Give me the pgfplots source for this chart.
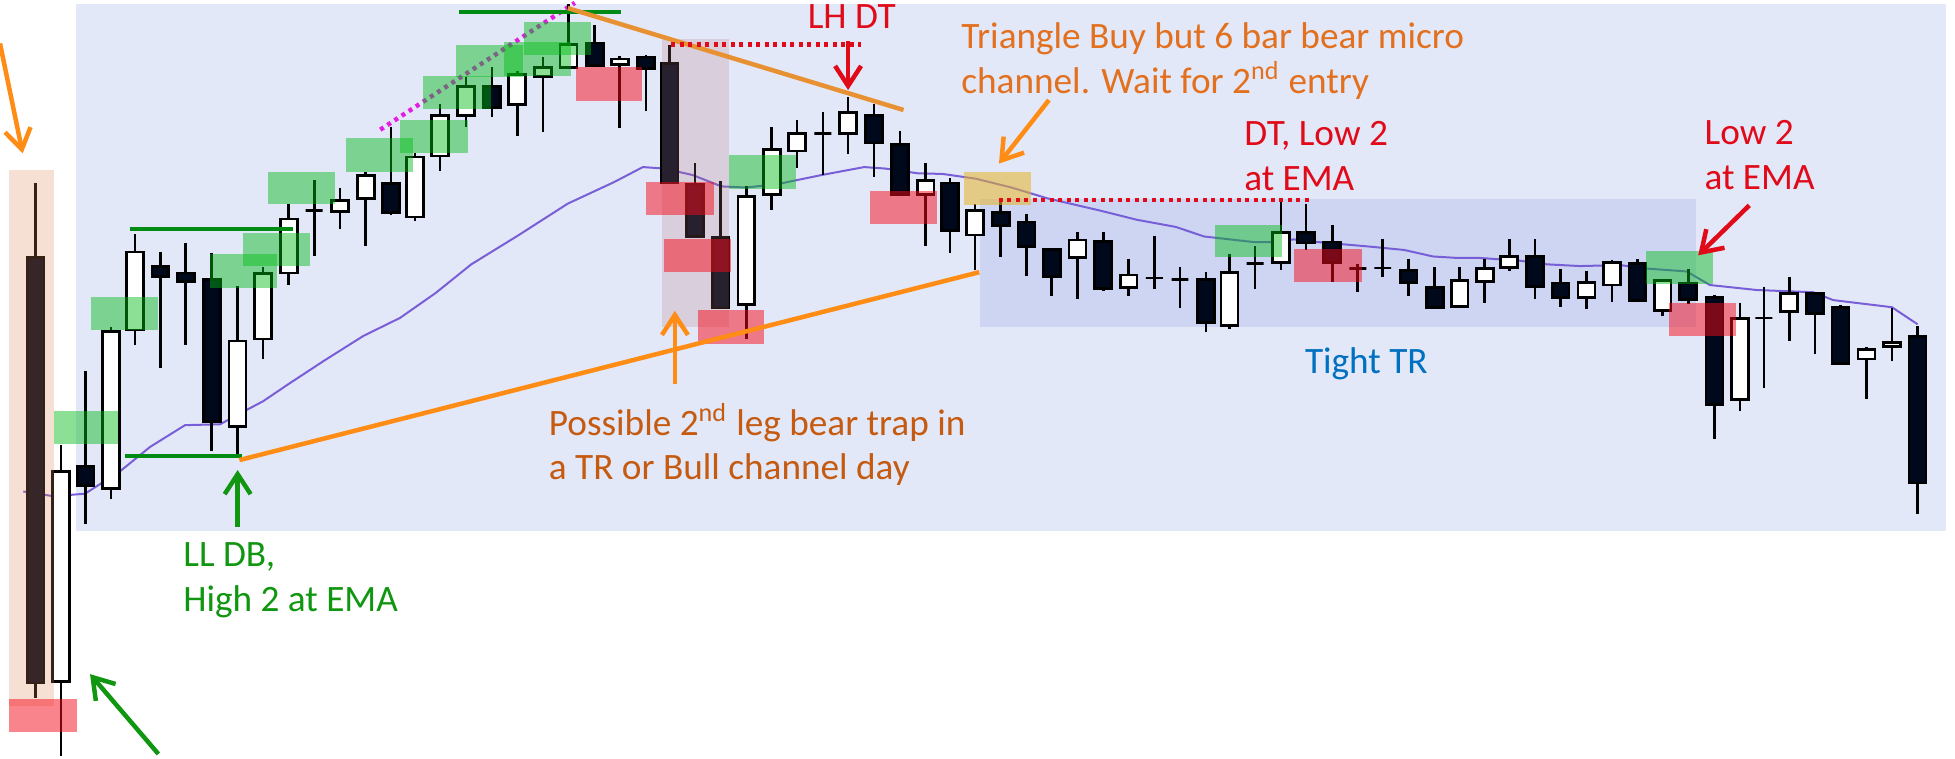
\documentclass[border=0pt]{standalone}
\usepackage{pgfplots}
\pgfplotsset{compat=1.18}
\usetikzlibrary{arrows.meta}
\usepackage{fontspec}
\setmainfont{Carlito}

\definecolor{panel}{RGB}{227,232,248}
\definecolor{trbox}{RGB}{120,140,220}
\definecolor{bear}{RGB}{0,8,28}
\definecolor{emac}{RGB}{120,95,215}
\definecolor{orng}{RGB}{255,140,20}
\definecolor{orng2}{RGB}{232,145,50}
\definecolor{gline}{RGB}{0,140,20}
\definecolor{redc}{RGB}{225,10,25}
\definecolor{txtorange}{RGB}{197,90,17}
\definecolor{txtorange2}{RGB}{226,112,30}
\definecolor{txtgreen}{RGB}{16,150,16}
\definecolor{txtblue}{RGB}{0,112,192}
\definecolor{magent}{RGB}{225,30,225}
\definecolor{gbox}{RGB}{0,187,20}
\definecolor{rbox}{RGB}{245,10,25}
\definecolor{goldbox}{RGB}{230,180,40}
\definecolor{rosy}{RGB}{182,118,118}
\definecolor{peach}{RGB}{220,130,80}

% candle: x, body top, body bottom, high, low (pixel rows, downwards)
\newcommand\cdl[6]{%
  \pgfmathsetmacro\cxl{#1-6.8}\pgfmathsetmacro\cxr{#1+6.8}%
  \addplot[draw=black, line width=0.27mm] coordinates {(#1,#4) (#1,#5)};
  \addplot[draw=black, line width=0.27mm, fill=#6] coordinates {(\cxl,#2) (\cxr,#2) (\cxr,#3) (\cxl,#3)} -- cycle;
}
\newcommand\be[5]{\cdl{#1}{#2}{#3}{#4}{#5}{bear}}
\newcommand\bu[5]{\cdl{#1}{#2}{#3}{#4}{#5}{white}}
\newcommand\rbx[6]{\addplot[draw=none, fill=#1, fill opacity=#2] coordinates {(#3,#4) (#5,#4) (#5,#6) (#3,#6)} -- cycle;}

\tikzset{arr/.style={line width=0.45mm, -{Straight Barb[length=2mm,width=2.6mm]}}}

\begin{document}
\begin{tikzpicture}
\begin{axis}[
  scale only axis, width=19.55cm, height=7.58cm,
  xmin=0, xmax=1568, ymin=0, ymax=608, y dir=reverse,
  hide axis, clip=false, no markers,
]
% panels
\rbx{panel}{1}{61}{3.5}{1561}{425.5}
\rbx{trbox}{0.2}{786.3}{160}{1360.2}{262.1}

% EMA
\addplot[emac, line width=0.2mm] coordinates {
(18.7,394.2) (42.8,398) (68.2,396) (96.3,378) (120.3,358.5) (148.4,341) (176.5,340.3)
(196.5,329.5) (211.2,321.7) (231.3,308.1) (260.7,288.8) (291.5,269.4) (320.8,255)
(349.4,235) (378,212) (415.3,189) (455.4,163.3) (492.6,146) (515.6,134) (532.7,135.2)
(555.6,140.4) (578.6,149.5) (598.6,150.4) (624.4,147.5) (658.8,140.4) (693.1,134)
(710.3,135.2) (736.1,139) (756,139.5) (782.6,143.3) (811.2,150.4) (839.8,159) (882.8,169)
(911.5,176.2) (943,182) (965.9,189.7) (1006,194.2) (1023.2,194.2) (1037.5,192)
(1057.6,194.2) (1097.7,197.7) (1126.3,200.5) (1149.3,205.7) (1169.3,206.9) (1187,206.9)
(1219,209.1) (1240.5,212) (1267.2,213.4) (1299.3,212.6) (1320.7,215.4) (1352.7,217.7)
(1371.4,228.6) (1408.9,232.6) (1454.3,234.4) (1470.3,240.7) (1517.4,246.4) (1538,260.1)};

% magenta dotted line
\addplot[magent, line width=0.45mm, dash pattern=on 0.4mm off 0.45mm] coordinates {(305,104) (461,2.3)};

% candles
\be{28.6}{206.6}{547.7}{147}{560}
\bu{49}{378}{546.5}{356.6}{606.6}
\be{68.7}{374}{389.5}{297.7}{420.5}
\bu{89}{266}{392}{262}{400}
\bu{108.3}{202}{264.7}{188}{276.4}
\be{128.6}{213.6}{221.7}{202}{295}
\be{149}{219}{225.6}{194.6}{276.7}
\be{169.8}{224}{338}{202.7}{361.6}
\bu{190.4}{273.6}{341.9}{229.5}{365.5}
\bu{211}{219.4}{272}{214}{287.6}
\bu{231.6}{175.6}{219}{164}{228.7}
\bu{252}{168.6}{168.6}{144}{205.4}
\bu{272.7}{161}{169.8}{150.4}{183.3}
\bu{293.3}{141}{159}{138}{197.7}
\be{313.6}{147.3}{170.5}{101.6}{172.5}
\bu{332.8}{126}{174}{122.6}{177}
\bu{353}{92.5}{125}{83.7}{137}
\bu{373.8}{69.3}{92.5}{61.6}{102}
\be{394.7}{69.3}{86}{54}{94}
\bu{414.8}{60}{83.7}{57.3}{109.4}
\bu{435.4}{53.9}{61.3}{45.8}{106}
\bu{456}{35.8}{53.9}{3.4}{54.4}
\be{477}{34.4}{52.4}{20}{53}
\bu{497}{47.3}{51.6}{45.3}{103}
\be{518}{45.8}{55}{43.8}{88.8}
\be{537}{51}{146.7}{35.8}{147.5}
\be{557.4}{147.5}{189.7}{131}{190.5}
\be{578}{190.5}{247}{145.5}{247.8}
\bu{598.6}{157.6}{244}{149.5}{272}
\bu{619}{119.8}{156}{101.7}{168.5}
\bu{639.3}{106.9}{121}{96}{134.6}
\bu{660}{106.9}{106.9}{90.2}{140.4}
\bu{680.2}{90.5}{106.9}{78}{123.8}
\be{701}{92.5}{114.6}{83.7}{141.8}
\be{721.8}{116}{156}{105.4}{156}
\bu{742.4}{144.7}{156}{131}{197}
\be{762}{146.7}{184.8}{143}{203}
\bu{782}{169}{188.5}{164}{216.3}
\be{802.6}{170.5}{181}{160}{206}
\be{823.2}{178}{197.7}{171.3}{221}
\be{843.6}{200}{222}{200}{237.8}
\bu{864.2}{192.5}{206.3}{185.7}{240}
\be{884.8}{193.7}{231.5}{186}{233.5}
\bu{905.2}{220.6}{230.6}{207.7}{237.8}
\bu{925.8}{222.9}{222.9}{189}{231.5}
\bu{946.4}{224}{224}{214.3}{247}
\be{967.3}{224}{258.4}{218.3}{266.4}
\bu{986}{218.3}{261.3}{203.4}{263.6}
\bu{1006.6}{211.4}{211.4}{197.7}{231.5}
\bu{1027.5}{186.2}{210.6}{161.9}{216.3}
\be{1047.5}{186.2}{194.8}{163.3}{200.5}
\be{1068.5}{194.2}{210.6}{180.5}{226.3}
\bu{1089}{215.4}{215.4}{212}{234.4}
\bu{1109}{214.9}{214.9}{191.4}{222}
\be{1129.8}{217}{226.3}{207.7}{237.2}
\be{1150.7}{230.6}{246.4}{214.3}{246.4}
\bu{1170.7}{225}{245.8}{214.3}{245.8}
\bu{1190.8}{215.4}{225.8}{207.7}{243}
\bu{1210.5}{205.7}{214.3}{192}{217}
\be{1231}{205.7}{229.8}{192}{240}
\be{1251.7}{227}{238.4}{215.4}{246.4}
\bu{1272.5}{226.3}{238.4}{217.2}{247.8}
\bu{1292.9}{210.6}{228.6}{208.6}{242}
\be{1313.2}{211.4}{241.2}{207.7}{241.2}
\bu{1333.5}{225}{249.3}{225}{253.6}
\be{1354}{227}{240}{215.4}{244}
\be{1375}{238.4}{324.3}{236.4}{351.8}
\bu{1395.5}{255.6}{320.3}{243}{329.5}
\bu{1414.7}{255}{255}{229.8}{310.9}
\bu{1435}{235.5}{249.8}{222}{273.6}
\be{1455.6}{235.5}{251.5}{235.5}{284.2}
\be{1476.2}{246.4}{291.7}{245}{291.7}
\bu{1497}{280.2}{288}{278.5}{320.3}
\bu{1517.4}{274.5}{278}{247}{289.4}
\be{1538}{270}{387.3}{261.3}{412}

% highlight boxes
\rbx{peach}{0.25}{7.5}{136.4}{43.3}{566}
\rbx{rosy}{0.22}{531.3}{31.5}{584.3}{262}
\rbx{gbox}{0.45}{43}{329.5}{95}{356}
\rbx{gbox}{0.45}{73}{238}{127}{265}
\rbx{gbox}{0.45}{168.4}{204}{222}{231}
\rbx{gbox}{0.45}{194.6}{187}{249}{213}
\rbx{gbox}{0.45}{215}{137.6}{268.7}{164}
\rbx{gbox}{0.45}{277.5}{111}{331.5}{137.6}
\rbx{gbox}{0.45}{320.8}{96}{375.2}{122.6}
\rbx{gbox}{0.45}{339.4}{60.7}{393.8}{87.4}
\rbx{gbox}{0.45}{366}{35.8}{419.6}{61.6}
\rbx{gbox}{0.45}{404}{33.8}{457.7}{60.7}
\rbx{gbox}{0.45}{420.5}{17.8}{474}{44.4}
\rbx{gbox}{0.45}{584.3}{124.6}{638.8}{151.3}
\rbx{gbox}{0.45}{974.5}{180.5}{1028.4}{206.3}
\rbx{gbox}{0.45}{1320.1}{201.4}{1373.6}{227.8}
\rbx{rbox}{0.5}{7.5}{561}{62}{587}
\rbx{rbox}{0.5}{461.7}{53.9}{515}{80.8}
\rbx{rbox}{0.5}{518.4}{146}{572.3}{172.8}
\rbx{rbox}{0.5}{532.2}{191.4}{586.6}{218.3}
\rbx{rbox}{0.5}{560}{249}{613}{276}
\rbx{rbox}{0.5}{697.7}{153.3}{751.3}{180}
\rbx{rbox}{0.5}{1038.1}{200}{1092.5}{226.3}
\rbx{rbox}{0.5}{1338.8}{243}{1392.3}{269.3}
\rbx{goldbox}{0.55}{773.4}{138}{827.2}{164.7}

% lines
\addplot[gline, line width=0.4mm] coordinates {(104,184) (235,184)};
\addplot[gline, line width=0.4mm] coordinates {(100,366) (194,366)};
\addplot[gline, line width=0.4mm] coordinates {(368,10) (498,10)};
\addplot[orng, line width=0.45mm] coordinates {(192,369) (785.4,218.3)};
\addplot[orng2, line width=0.45mm] coordinates {(455.4,6.5) (724.7,88.2)};
\addplot[redc, line width=0.45mm, dash pattern=on 0.4mm off 0.45mm] coordinates {(538.5,35.8) (690.3,35.8)};
\addplot[redc, line width=0.45mm, dash pattern=on 0.4mm off 0.45mm] coordinates {(801.2,160.4) (1050.4,160.4)};

% arrows
\draw[arr, orng] (axis cs:0,34.8) -- (axis cs:18.2,123);
\draw[arr, txtgreen] (axis cs:127,604.7) -- (axis cs:72.2,540.7);
\draw[arr, txtgreen] (axis cs:190.6,422.4) -- (axis cs:190.6,377);
\draw[arr, orng] (axis cs:541.3,308) -- (axis cs:541.3,249.3);
\draw[arr, redc] (axis cs:680.2,33) -- (axis cs:680.2,72.2);
\draw[arr, orng] (axis cs:841.3,80.2) -- (axis cs:801.2,131.2);
\draw[arr, redc] (axis cs:1403,164.7) -- (axis cs:1362,204.8);

% texts
\tikzset{lbl/.style={anchor=base west, inner sep=0pt, font=\fontsize{10.6}{12.7}\selectfont}}
\node[lbl, txtgreen] at (axis cs:146.5,454.5) {LL DB,};
\node[lbl, txtgreen] at (axis cs:146.5,490.6) {High 2 at EMA};
\node[lbl, txtorange] at (axis cs:439.7,349) {Possible 2\textsuperscript{nd} leg bear trap in};
\node[lbl, txtorange] at (axis cs:439.7,384.8) {a TR or Bull channel day};
\node[lbl, redc] at (axis cs:647.3,22.9) {LH DT};
\node[lbl, txtorange2] at (axis cs:770.5,38.7) {Triangle Buy but 6 bar bear micro};
\node[lbl, txtorange2] at (axis cs:770.5,75) {channel. Wait for 2\textsuperscript{nd} entry};
\node[lbl, redc] at (axis cs:997.4,117) {DT, Low 2};
\node[lbl, redc] at (axis cs:997.4,153) {at EMA};
\node[lbl, txtblue] at (axis cs:1046.1,299.4) {Tight TR};
\node[lbl, redc] at (axis cs:1366.6,116) {Low 2};
\node[lbl, redc] at (axis cs:1366.6,152) {at EMA};
\end{axis}
\pgfresetboundingbox
\path (0,0) rectangle (19.55cm,7.58cm);
\end{tikzpicture}
\end{document}
